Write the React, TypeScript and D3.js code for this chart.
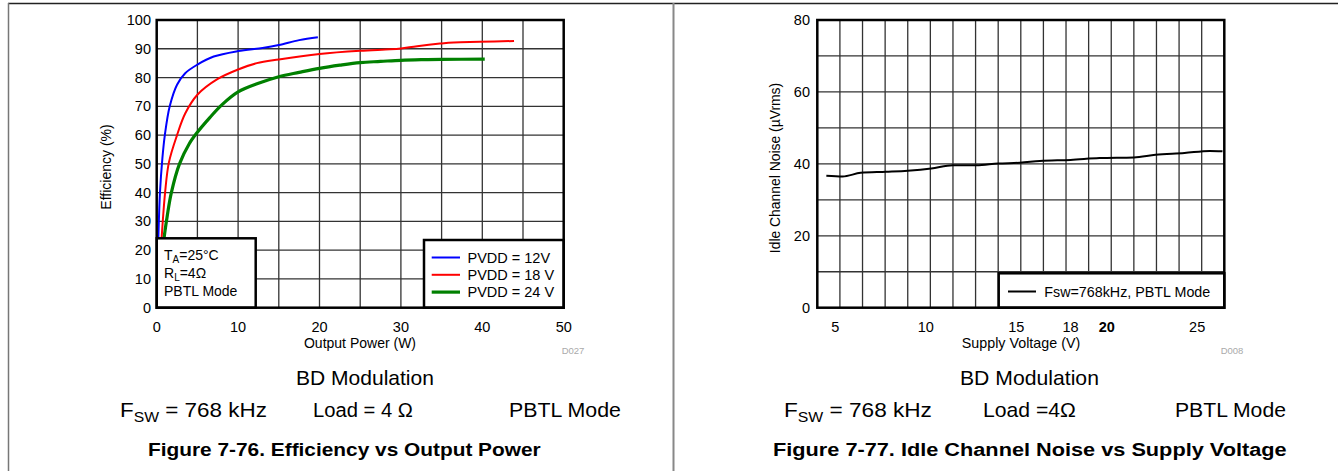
import React, { useEffect, useRef } from 'react';
import * as d3 from 'd3';

// Figure 7-76: efficiency vs output power
const pwr12 = [0.05, 0.2, 0.4, 0.7, 1.0, 1.6, 2.5, 3.5, 5, 7, 10, 13, 15, 17.5, 19.8];
const eff12 = [8, 24, 40, 52, 60, 70, 77.5, 81.5, 84.5, 87.3, 89.2, 90.3, 91.3, 93, 94];
const pwr18 = [0.3, 0.6, 1.03, 1.5, 2.5, 3.5, 5, 7.5, 10, 12.3, 15, 20, 25, 28.7, 30, 32, 34.8, 36.5, 39.7, 43.9];
const eff18 = [10, 24, 40, 50.5, 60, 67.5, 74, 79.5, 82.8, 85, 86.3, 88.2, 89.3, 89.8, 90.1, 90.9, 91.8, 92.2, 92.4, 92.7];
const pwr24 = [0.5, 0.9, 1.3, 1.8, 2.8, 4.0, 5, 6.5, 8, 10, 12.5, 15, 17.5, 20, 22.5, 25, 27.5, 30, 32.5, 35, 40.3];
const eff24 = [10, 24, 32, 40, 50, 57, 61, 66, 70.5, 75, 78, 80.3, 81.8, 83.2, 84.3, 85.2, 85.6, 86, 86.2, 86.3, 86.4];
const effLegend = ['PVDD = 12V', 'PVDD = 18 V', 'PVDD = 24 V'];
const effColors = ['#0000ff', '#ff0000', '#008000'];
const effTicksX = [0, 10, 20, 30, 40, 50];
const effTicksY = [0, 10, 20, 30, 40, 50, 60, 70, 80, 90, 100];

// Figure 7-77: idle channel noise vs supply voltage
const supplyV = [4.5, 5.4, 6.4, 7.8, 9.0, 10.3, 11.5, 12.8, 14.0, 15.2, 16.3, 18.0, 19.6, 21.5, 22.7, 24.3, 25.7, 26.4];
const noiseUV = [36.7, 36.5, 37.5, 37.8, 38.1, 38.7, 39.6, 39.6, 40.1, 40.3, 40.8, 41.1, 41.6, 41.8, 42.5, 43.0, 43.6, 43.5];
const noiseTicksX = [5, 10, 15, 18, 20, 25];
const noiseTicksY = [0, 20, 40, 60, 80];

const FONT = '"Liberation Sans", Arial, sans-serif';

const App: React.FC = () => {
  const svgRef = useRef<SVGSVGElement>(null);

  useEffect(() => {
    if (!svgRef.current) return;
    const svg = d3.select(svgRef.current);
    svg.selectAll('*').remove();

    const top = 20;
    const bottom = 307.7;

    // Frame
    svg.append('line').attr('x1', 8).attr('x2', 1338).attr('y1', 3.5).attr('y2', 3.5)
      .attr('stroke', '#222').attr('stroke-width', 1.5);
    svg.append('line').attr('x1', 8.5).attr('x2', 8.5).attr('y1', 3).attr('y2', 471)
      .attr('stroke', '#777').attr('stroke-width', 1.5);
    svg.append('line').attr('x1', 673.5).attr('x2', 673.5).attr('y1', 3).attr('y2', 471)
      .attr('stroke', '#888').attr('stroke-width', 2);

    const drawGrid = (g: any, x: any, y: any, xs: number[], ys: number[]) => {
      g.selectAll('.vg').data(xs).enter().append('line')
        .attr('x1', (d: number) => x(d)).attr('x2', (d: number) => x(d))
        .attr('y1', top).attr('y2', bottom)
        .attr('stroke', '#333').attr('stroke-width', 1.3);
      g.selectAll('.hg').data(ys).enter().append('line')
        .attr('y1', (d: number) => y(d)).attr('y2', (d: number) => y(d))
        .attr('x1', x.range()[0]).attr('x2', x.range()[1])
        .attr('stroke', '#333').attr('stroke-width', 1.3);
    };

    const text = (g: any, x: number, y: number, s: string, size: number, anchor = 'middle') =>
      g.append('text').attr('x', x).attr('y', y).attr('text-anchor', anchor)
        .style('font-family', FONT).style('font-size', `${size}px`).style('fill', '#000').text(s);

    // stretch a start-anchored text horizontally so it spans x0..x1
    const fit = (t: any, x0: number, x1: number) => {
      const w = (t.node() as SVGTextElement).getComputedTextLength();
      if (w > 0) t.attr('transform', `translate(${x0},0) scale(${(x1 - x0) / w},1) translate(${-x0},0)`);
      return t;
    };

    // ---------- Left chart ----------
    const xL = d3.scaleLinear().domain([0, 50]).range([156.7, 563.7]);
    const yL = d3.scaleLinear().domain([0, 100]).range([bottom, top]);
    const gL = svg.append('g');
    drawGrid(gL, xL, yL, d3.range(5, 50, 5), d3.range(10, 100, 10));

    svg.append('defs').append('clipPath').attr('id', 'clipL').append('rect')
      .attr('x', xL(0)).attr('y', top).attr('width', xL(50) - xL(0)).attr('height', bottom - top);

    const effSeries = [
      { p: pwr12, e: eff12, w: 2 },
      { p: pwr18, e: eff18, w: 2 },
      { p: pwr24, e: eff24, w: 3.2 }
    ];
    effSeries.forEach((s, i) => {
      const pts = s.p.map((p, j) => [p, s.e[j]] as [number, number]);
      const line = d3.line<[number, number]>().x(d => xL(d[0])).y(d => yL(d[1])).curve(d3.curveCatmullRom.alpha(0.5));
      gL.append('path').datum(pts).attr('clip-path', 'url(#clipL)')
        .attr('fill', 'none').attr('stroke', effColors[i]).attr('stroke-width', s.w).attr('d', line);
    });

    // condition box
    gL.append('rect').attr('x', xL(0)).attr('y', 238.3).attr('width', 99).attr('height', bottom - 238.3)
      .attr('fill', '#fff').attr('stroke', '#000').attr('stroke-width', 2.5);
    const ta = text(gL, 164, 259.5, 'T', 14, 'start');
    ta.append('tspan').attr('dy', 3.5).style('font-size', '10px').text('A');
    ta.append('tspan').attr('dy', -3.5).text('=25°C');
    const rl = text(gL, 164, 277.5, 'R', 14, 'start');
    rl.append('tspan').attr('dy', 3.5).style('font-size', '10px').text('L');
    rl.append('tspan').attr('dy', -3.5).text('=4Ω');
    text(gL, 164, 296, 'PBTL Mode', 14, 'start');

    // legend
    gL.append('rect').attr('x', 424).attr('y', 240).attr('width', xL(50) - 424).attr('height', bottom - 240)
      .attr('fill', '#fff').attr('stroke', '#000').attr('stroke-width', 2.5);
    effLegend.forEach((lab, i) => {
      const yy = 257.5 + i * 17.3;
      gL.append('line').attr('x1', 431.7).attr('x2', 460).attr('y1', yy).attr('y2', yy)
        .attr('stroke', effColors[i]).attr('stroke-width', i === 2 ? 3.2 : 2);
      text(gL, 467.5, yy + 5, lab, 14.5, 'start');
    });

    gL.append('rect').attr('x', xL(0)).attr('y', top).attr('width', xL(50) - xL(0)).attr('height', bottom - top)
      .attr('fill', 'none').attr('stroke', '#000').attr('stroke-width', 2.5);

    effTicksY.forEach(v => text(gL, 151, yL(v) + 5, String(v), 14.5, 'end'));
    effTicksX.forEach(v => text(gL, xL(v), 331.5, String(v), 14.5));
    text(gL, 360, 347.5, 'Output Power (W)', 14);
    text(gL, 0, 0, 'Efficiency (%)', 14).attr('transform', 'translate(111,167) rotate(-90)');
    text(gL, 573, 354, 'D027', 9.5).style('fill', '#aaa');

    // ---------- Right chart ----------
    const xR = d3.scaleLinear().domain([4, 26.5]).range([817.3, 1224.3]);
    const yR = d3.scaleLinear().domain([0, 80]).range([bottom, top]);
    const gR = svg.append('g');
    drawGrid(gR, xR, yR, d3.range(1, 18).map(i => 4 + i * 1.25), d3.range(10, 80, 10));

    const nPts = supplyV.map((v, j) => [v, noiseUV[j]] as [number, number]);
    const nLine = d3.line<[number, number]>().x(d => xR(d[0])).y(d => yR(d[1])).curve(d3.curveMonotoneX);
    gR.append('path').datum(nPts).attr('fill', 'none').attr('stroke', '#000').attr('stroke-width', 2).attr('d', nLine);

    gR.append('rect').attr('x', 998.7).attr('y', 273.3).attr('width', xR(26.5) - 998.7).attr('height', bottom - 273.3)
      .attr('fill', '#fff').attr('stroke', '#000').attr('stroke-width', 2.5);
    gR.append('line').attr('x1', 1008).attr('x2', 1036).attr('y1', 291.5).attr('y2', 291.5)
      .attr('stroke', '#000').attr('stroke-width', 2);
    text(gR, 1044.3, 296.5, 'Fsw=768kHz, PBTL Mode', 14.3, 'start');

    gR.append('rect').attr('x', xR(4)).attr('y', top).attr('width', xR(26.5) - xR(4)).attr('height', bottom - top)
      .attr('fill', 'none').attr('stroke', '#000').attr('stroke-width', 2.5);

    noiseTicksY.forEach(v => text(gR, 810, yR(v) + 5, String(v), 14.5, 'end'));
    noiseTicksX.forEach(v => text(gR, xR(v), 331.5, String(v), 14.5).style('font-weight', v === 20 ? 'bold' : 'normal'));
    text(gR, 1021, 347.5, 'Supply Voltage (V)', 14.3);
    text(gR, 0, 0, 'Idle Channel Noise (µVrms)', 13.9).attr('transform', 'translate(780,168) rotate(-90)');
    text(gR, 1232, 354, 'D008', 9.5).style('fill', '#aaa');

    // ---------- Captions ----------
    const caption = (b: number[], f: number[], l: number[], p: number[], c: number[], load: string, title: string) => {
      fit(text(svg, b[0], 385, 'BD Modulation', 20, 'start'), b[0], b[1]);
      const fs = text(svg, f[0], 417, 'F', 20, 'start');
      fs.append('tspan').attr('dy', 5).style('font-size', '14px').text('SW');
      fs.append('tspan').attr('dy', -5).text(' = 768 kHz');
      fit(fs, f[0], f[1]);
      fit(text(svg, l[0], 417, load, 20, 'start'), l[0], l[1]);
      fit(text(svg, p[0], 417, 'PBTL Mode', 20, 'start'), p[0], p[1]);
      fit(text(svg, c[0], 456, title, 18, 'start').style('font-weight', 'bold'), c[0], c[1]);
    };
    caption([296, 434], [120, 267], [313, 413], [509, 621], [148, 541],
      'Load = 4 Ω', 'Figure 7-76. Efficiency vs Output Power');
    caption([960, 1099], [784, 932], [983, 1076], [1175, 1286], [773, 1287],
      'Load =4Ω', 'Figure 7-77. Idle Channel Noise vs Supply Voltage');
  }, []);

  return (
    <svg
      ref={svgRef}
      width={1338}
      height={471}
      style={{ position: 'absolute', left: 0, top: 0, background: '#fff' }}
    />
  );
};

export default App;
